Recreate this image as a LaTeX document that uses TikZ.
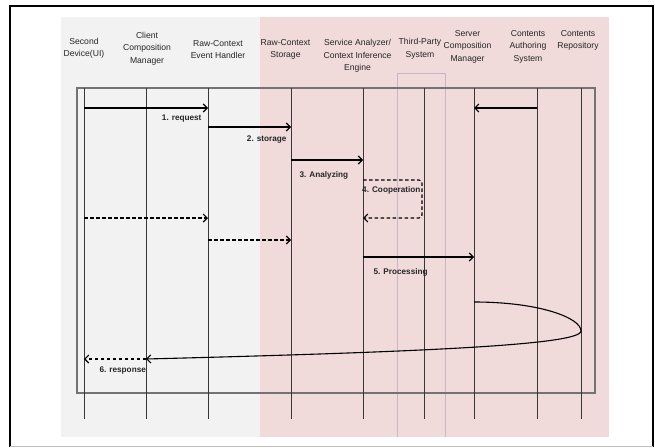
\documentclass[tikz,border=0pt]{standalone}
\usepackage{fontspec}
\setmainfont{Liberation Sans}
\usepackage{tikz}
\usetikzlibrary{arrows.meta}
\definecolor{leftbg}{RGB}{242,242,242}
\definecolor{rightbg}{RGB}{240,218,218}
\definecolor{tpline}{RGB}{200,180,205}
\definecolor{lifegray}{RGB}{55,55,55}
\definecolor{framegray}{RGB}{115,115,115}

\begin{document}
\begin{tikzpicture}[x=1pt,y=-1pt]
\tikzstyle{head}=[align=center,inner sep=0pt,font=\fontsize{8.6}{12.5}\selectfont,text=black!85]
\tikzstyle{life}=[lifegray,line width=1pt]
\tikzstyle{msg}=[black,line width=1.1pt,-{Straight Barb[length=4pt,width=8pt]}]
\tikzstyle{ret}=[msg,dashed,dash pattern=on 3.5pt off 2.5pt]
\tikzstyle{lbl}=[inner sep=0pt,font=\bfseries\fontsize{8.2}{9}\selectfont,text=black!85]
\useasboundingbox (0,0) rectangle (655,447);

% page frame and backgrounds
\fill[leftbg] (61,17) rectangle (260,437);
\fill[rightbg] (260,17) rectangle (609,437);
\draw[black,line width=1.5pt] (10,447) -- (10,6) -- (653,6) -- (653,447);
\draw[black!25,line width=1pt] (10,446) -- (653,446);
\draw[tpline,line width=0.8pt] (397,437) -- (397,73) -- (445,73) -- (445,437);
\draw[framegray,line width=1.6pt] (77,88) rectangle (595,393);

% lifelines
\foreach \n/\x in {dev/84,ccm/146,evh/208,rcs/291,sai/363,tps/424,scm/474,cas/537,rep/581}{
  \coordinate (\n) at (\x,88);
  \coordinate (\n-end) at (\x,419);
  \draw[life] (\n) -- (\n-end);
}

% headers
\node[head] (hdev) at (84,48.5) {Second\\Device(UI)};
\node[head] (hccm) at (147,48.5) {Client\\Composition\\Manager};
\node[head] (hevh) at (218,49.5) {Raw-Context\\Event Handler};
\node[head] (hrcs) at (285.5,49.5) {Raw-Context\\Storage};
\node[head] (hsai) at (357.5,56) {Service Analyzer/\\Context Inference\\Engine};
\node[head] (htps) at (420,49) {Third-Party\\System};
\node[head] (hscm) at (467.5,46.5) {Server\\Composition\\Manager};
\node[head] (hcas) at (528,46.5) {Contents\\Authoring\\System};
\node[head] (hrep) at (578,40.5) {Contents\\Repository};

% message rows
\coordinate (req) at (0,108);
\coordinate (sto) at (0,127);
\coordinate (ana) at (0,160);
\coordinate (coop) at (0,180);
\coordinate (back) at (0,218);
\coordinate (back2) at (0,240);
\coordinate (proc) at (0,257);
\coordinate (loop) at (0,302);
\coordinate (turn) at (0,331);
\coordinate (resp) at (0,359);
\coordinate (coopx) at (422,0);

% messages
\draw[msg] (dev |- req) -- (evh |- req)
  node[lbl,pos=1,anchor=north east,xshift=-6pt,yshift=-6pt] (lreq) {1. request};
\draw[msg] (cas |- req) -- (scm |- req);
\draw[msg] (evh |- sto) -- (rcs |- sto)
  node[lbl,pos=1,anchor=north east,xshift=-4pt,yshift=-8pt] (lsto) {2. storage};
\draw[msg] (rcs |- ana) -- (sai |- ana)
  node[lbl,pos=0,anchor=north west,xshift=8pt,yshift=-11pt] (lana) {3. Analyzing};
\draw[ret,rounded corners=3pt] (sai |- coop) -- (coopx |- coop) -- (coopx |- back) -- (sai |- back);
\node[lbl,anchor=west] (lcoop) at (362,190) {4. Cooperation};
\draw[ret] (dev |- back) -- (evh |- back);
\draw[ret] (evh |- back2) -- (rcs |- back2);
\draw[msg] (sai |- proc) -- (scm |- proc)
  node[lbl,pos=0,anchor=north west,xshift=10pt,yshift=-11pt] (lproc) {5. Processing};
\draw[msg] (scm |- loop) .. controls +(66,0) and +(0,-13) .. (rep |- turn)
  .. controls +(0,14) and +(274,-7) .. (ccm |- resp);
\draw[ret] (ccm |- resp) -- (dev |- resp)
  node[lbl,pos=1,anchor=north west,xshift=15pt,yshift=-7pt] (lresp) {6. response};
\end{tikzpicture}
\end{document}
